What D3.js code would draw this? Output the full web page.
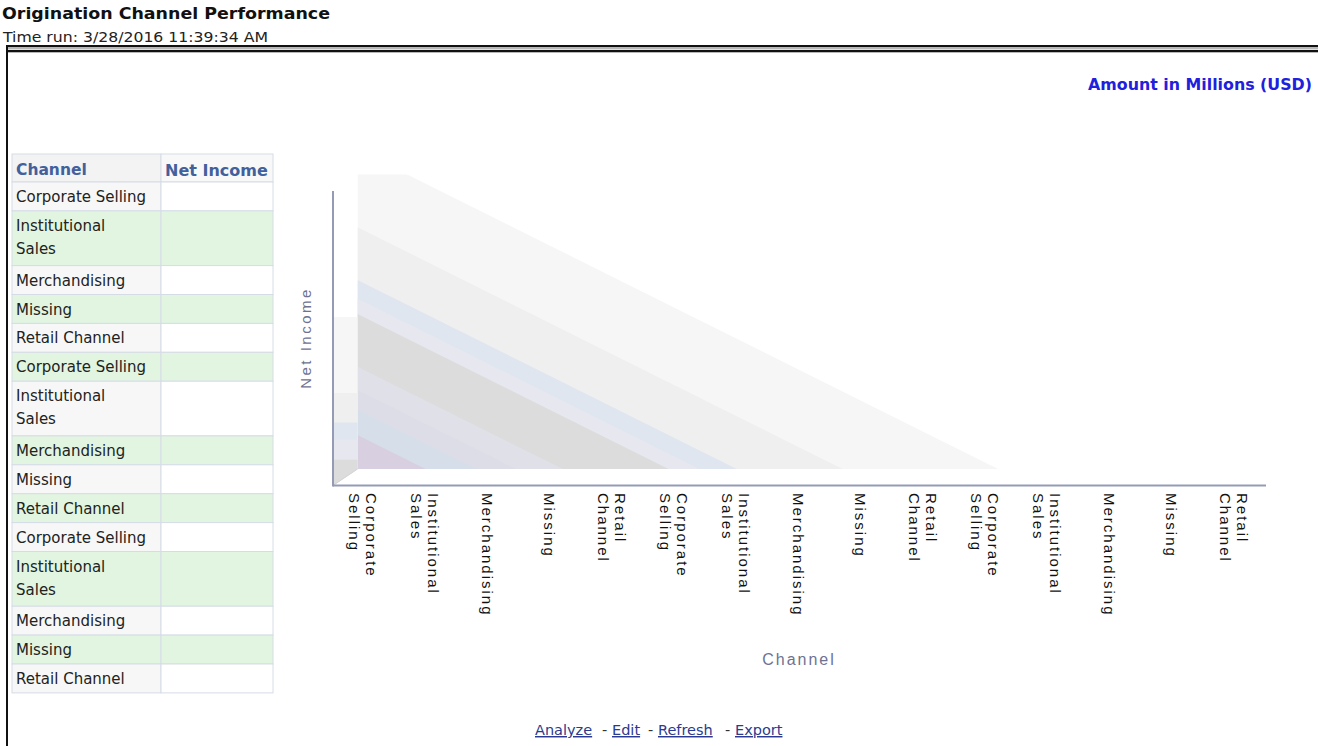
<!DOCTYPE html>
<html>
<head>
<meta charset="utf-8">
<script src="https://cdn.jsdelivr.net/npm/d3@7/dist/d3.min.js"></script>
<style>
body { margin: 0; background: #fff; }
svg text { font-family: "DejaVu Sans", Verdana, sans-serif; }
</style>
</head>
<body>
<svg id="page" width="1318" height="746"></svg>
<script>
// data
var channels = ["Corporate Selling", "Institutional Sales", "Merchandising", "Missing", "Retail Channel",
                "Corporate Selling", "Institutional Sales", "Merchandising", "Missing", "Retail Channel",
                "Corporate Selling", "Institutional Sales", "Merchandising", "Missing", "Retail Channel"];
var netIncome = ["", "", "", "", "", "", "", "", "", "", "", "", "", "", ""];

// background stripes of the empty 3d chart (value per channel, back to front)
var stripe1 = [10.3, 9.3, 8.3, 7.3, 6.3, 5.3, 4.3, 3.3, 2.3, 1.3, 0.3, -0.7];
var stripe2 = [7.8, 6.8, 5.8, 4.8, 3.8, 2.8, 1.8, 0.8, -0.2];
var stripe3 = [6.1, 5.1, 4.1, 3.1, 2.1, 1.1, 0.1, -0.9];
var stripe4 = [5.5, 4.5, 3.5, 2.5, 1.5, 0.5, -0.5];
var stripe5 = [5.0, 4.0, 3.0, 2.0, 1.0, 0.0];
var stripe6 = [3.3, 2.3, 1.3, 0.3, -0.7];
var stripe7 = [2.55, 1.55, 0.55, -0.45];
var stripe8 = [1.9, 0.9, -0.1];
var stripe9 = [1.1, 0.1, -0.9];
var sideLevels = [4.9, 2.45, 1.5, 0.95, 0.3];
var stripeColors = ["#f6f6f6", "#efefef", "#dfe6ef", "#e6e7ef", "#dcdcdc", "#e0e0e8", "#dcdde6", "#d6dfe9", "#d8cfe0"];

(function(){

var svg = d3.select("#page");

// page frame
svg.append("rect").attr("x", 6).attr("y", 45).attr("width", 1312).attr("height", 2.3).style("fill", "#111");
svg.append("rect").attr("x", 6).attr("y", 48.3).attr("width", 1312).attr("height", 1).style("fill", "#999");
svg.append("rect").attr("x", 6).attr("y", 50).attr("width", 1312).attr("height", 2.3).style("fill", "#111");
svg.append("rect").attr("x", 6).attr("y", 45).attr("width", 2).attr("height", 701).style("fill", "#111");

svg.append("text").text("Origination Channel Performance")
    .attr("x", 2).attr("y", 19)
    .attr("textLength", 328).attr("lengthAdjust", "spacingAndGlyphs")
    .style("font-size", "16px").style("font-weight", "bold").style("fill", "#111");
svg.append("text").text("Time run: 3/28/2016 11:39:34 AM")
    .attr("x", 3).attr("y", 42)
    .attr("textLength", 265).attr("lengthAdjust", "spacingAndGlyphs")
    .style("font-size", "14px").style("fill", "#222");
svg.append("text").text("Amount in Millions (USD)")
    .attr("x", 1088).attr("y", 90)
    .attr("textLength", 224).attr("lengthAdjust", "spacingAndGlyphs")
    .style("font-size", "15px").style("font-weight", "bold").style("fill", "#2020dd");

// table
var tbl = svg.append("g");
var col0 = 12, col1 = 161, col2 = 273;
var headTop = 154, headH = 28;
var rowY = headTop + headH;
var rows = channels.map(function(c, i) {
    var lines = c == "Institutional Sales" ? ["Institutional", "Sales"] : [c];
    var h = 28.9 + 25.8 * (lines.length - 1);
    var r = {i: i, lines: lines, y: rowY, h: h, value: netIncome[i]};
    rowY += h;
    return r;
});

tbl.append("rect").attr("x", col0).attr("y", headTop).attr("width", col1 - col0).attr("height", headH)
    .style("fill", "#f3f3f3").style("stroke", "#d6dce6");
tbl.append("rect").attr("x", col1).attr("y", headTop).attr("width", col2 - col1).attr("height", headH)
    .style("fill", "#f8f8f8").style("stroke", "#d6dce6");
tbl.append("text").text("Channel").attr("x", 16).attr("y", headTop + 21)
    .style("font-size", "15.5px").style("font-weight", "bold").style("fill", "#42609c");
tbl.append("text").text("Net Income").attr("x", 165).attr("y", headTop + 22)
    .style("font-size", "16px").style("font-weight", "bold").style("fill", "#42609c");

var row = tbl.selectAll(".row").data(rows).enter().append("g").attr("class", "row");
row.append("rect")
    .attr("x", col0).attr("y", function(d) { return d.y; })
    .attr("width", col1 - col0).attr("height", function(d) { return d.h; })
    .style("fill", function(d) { return d.i % 2 ? "#e1f5e0" : "#f7f7f7"; })
    .style("stroke", "#d6dce6");
row.append("rect")
    .attr("x", col1).attr("y", function(d) { return d.y; })
    .attr("width", col2 - col1).attr("height", function(d) { return d.h; })
    .style("fill", function(d) { return d.i % 2 ? "#e1f5e0" : "#ffffff"; })
    .style("stroke", "#d6dce6");
row.each(function(d) {
    var g = d3.select(this);
    d.lines.forEach(function(l, k) {
        g.append("text").text(l)
            .attr("x", 16).attr("y", d.y + 20 + k * 23)
            .style("font-size", "15px").style("fill", "#222");
    });
    g.append("text").text(d.value)
        .attr("x", col2 - 4).attr("y", d.y + 20)
        .style("text-anchor", "end").style("font-size", "15px");
});

// chart
var x = d3.scalePoint().domain(d3.range(channels.length)).range([357.5, 1228.3]);
var y = d3.scaleLinear().domain([0, 9.5]).range([469, 174.5]);
var depthX = -24.5, depthY = 16.5;
var backRight = x(channels.length - 1) + x.step();

svg.append("clipPath").attr("id", "plotClip")
    .append("rect")
    .attr("x", x(0)).attr("y", y(9.5))
    .attr("width", backRight - x(0)).attr("height", y(0) - y(9.5));

var stripes = [stripe1, stripe2, stripe3, stripe4, stripe5, stripe6, stripe7, stripe8, stripe9];
var area = d3.area()
    .x(function(d, i) { return x(i); })
    .y0(y(0))
    .y1(function(d) { return y(d); });

svg.append("g").attr("clip-path", "url(#plotClip)")
    .selectAll(".stripe")
    .data(stripes)
    .enter().append("path")
    .attr("class", "stripe")
    .attr("d", area)
    .style("fill", function(d, i) { return stripeColors[i]; });

// left side wall of the 3d box
svg.append("g").selectAll(".side")
    .data(sideLevels)
    .enter().append("path")
    .attr("class", "side")
    .attr("d", function(d) {
        var x0 = x(0) + depthX, x1 = x(0);
        return "M" + x0 + "," + y(d) + "L" + x1 + "," + y(d) + "L" + x1 + "," + y(0) +
            "L" + x0 + "," + (y(0) + depthY) + "Z";
    })
    .style("fill", function(d, i) { return stripeColors[i]; });

svg.append("line")
    .attr("x1", x(0) + depthX).attr("y1", y(0) + depthY)
    .attr("x2", x(0)).attr("y2", y(0))
    .style("stroke", "#d4d4d4").style("stroke-width", 1);

// front axes
svg.append("line")
    .attr("x1", x(0) + depthX).attr("y1", y(9.5) + depthY)
    .attr("x2", x(0) + depthX).attr("y2", y(0) + depthY + 1)
    .style("stroke", "#959bb5").style("stroke-width", 2);
svg.append("line")
    .attr("x1", x(0) + depthX).attr("y1", y(0) + depthY)
    .attr("x2", backRight + depthX).attr("y2", y(0) + depthY)
    .style("stroke", "#959bb5").style("stroke-width", 2);

// channel labels, rotated
var lbl = svg.append("g").selectAll(".lbl")
    .data(channels)
    .enter().append("g")
    .attr("class", "lbl")
    .attr("transform", function(d, i) { return "translate(" + x(i) + ",493) rotate(90)"; });
lbl.each(function(d) {
    var lines = d.split(" ");
    var g = d3.select(this);
    lines.forEach(function(l, k) {
        g.append("text").text(l)
            .attr("x", 0)
            .attr("y", 17 * k - 8.5 * (lines.length - 1))
            .style("font-family", "'Liberation Sans', Arial, sans-serif")
            .style("font-size", "15px")
            .style("letter-spacing", "2px")
            .style("fill", "#111");
    });
});

svg.append("text").text("Channel")
    .attr("x", 799).attr("y", 665)
    .style("text-anchor", "middle")
    .style("font-family", "'Liberation Sans', Arial, sans-serif")
    .style("font-size", "16px").style("letter-spacing", "2px")
    .style("fill", "#6e7292");

svg.append("text").text("Net Income")
    .attr("transform", "translate(311,338) rotate(-90)")
    .style("text-anchor", "middle")
    .style("font-family", "'Liberation Sans', Arial, sans-serif")
    .style("font-size", "15px").style("letter-spacing", "2.5px")
    .style("fill", "#6e7292");

// report links
var links = [
    {t: "Analyze", x: 535, link: true},
    {t: "-", x: 602, link: false},
    {t: "Edit", x: 612, link: true},
    {t: "-", x: 648, link: false},
    {t: "Refresh", x: 658, link: true},
    {t: "-", x: 725, link: false},
    {t: "Export", x: 735, link: true}
];
svg.append("g").selectAll("text")
    .data(links)
    .enter().append("text")
    .text(function(d) { return d.t; })
    .attr("x", function(d) { return d.x; })
    .attr("y", 735)
    .style("font-size", "14.5px")
    .style("text-decoration", function(d) { return d.link ? "underline" : "none"; })
    .style("fill", function(d) { return d.link ? "#2b3a8f" : "#333"; });

})();
</script>
</body>
</html>
